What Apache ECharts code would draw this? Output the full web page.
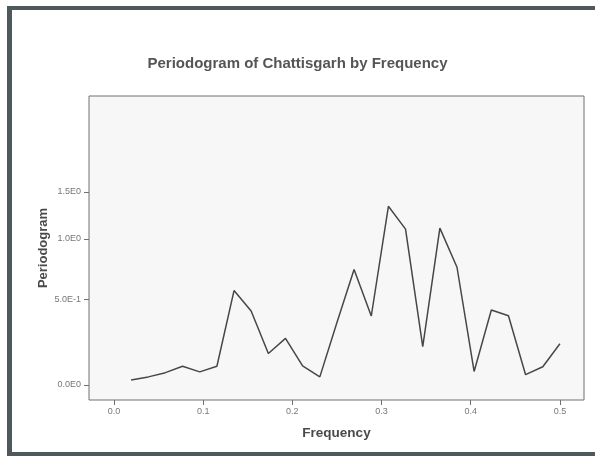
<!DOCTYPE html>
<html>
<head>
<meta charset="utf-8">
<script src="https://cdn.jsdelivr.net/npm/echarts@6/dist/echarts.min.js"></script>
<style>
html,body{margin:0;padding:0;background:#ffffff;}
#chart{width:595px;height:456px;}
</style>
</head>
<body>
<div id="chart"></div>
<script>
// Data
var frequencies = [0.0192,0.0385,0.0577,0.0769,0.0962,0.1154,0.1346,0.1538,0.1731,0.1923,0.2115,0.2308,0.2500,
                   0.2692,0.2885,0.3077,0.3269,0.3462,0.3654,0.3846,0.4038,0.4231,0.4423,0.4615,0.4808,0.5000];
var periodogram = [0.024,0.039,0.060,0.093,0.064,0.093,0.565,0.420,0.161,0.247,0.095,0.039,0.345,
                   0.730,0.387,1.334,1.095,0.200,1.105,0.748,0.066,0.427,0.389,0.050,0.090,0.216];
var xTicks = [0.0,0.1,0.2,0.3,0.4,0.5];
var xTickLabels = ['0.0','0.1','0.2','0.3','0.4','0.5'];
var yTicks = [0.0,0.5,1.0,1.5];
var yTickLabels = ['0.0E0','5.0E-1','1.0E0','1.5E0'];

// The reference's vertical scale is compressed like ln(1 + value)
function tf(v){ return Math.log(1 + v); }
var yTickPos = yTicks.map(tf);
var seriesData = frequencies.map(function(f,i){ return [f, tf(periodogram[i])]; });

var font = 'Liberation Sans, Arial, sans-serif';
var chart = echarts.init(document.getElementById('chart'), null, {renderer:'canvas'});
chart.setOption({
  animation:false,
  backgroundColor:'#ffffff',
  title:{
    text:'Periodogram of Chattisgarh by Frequency',
    left:'center', top:51,
    textStyle:{fontFamily:font, fontSize:15, fontWeight:'bold', color:'#555555'}
  },
  grid:{left:89, top:96, right:11, bottom:56, show:true, backgroundColor:'#f7f7f7', borderColor:'#707070', borderWidth:1},
  xAxis:{
    type:'value', min:-0.028, max:0.527,
    name:'Frequency', nameLocation:'middle', nameGap:26,
    nameTextStyle:{fontFamily:font, fontSize:13.5, fontWeight:'bold', color:'#4a4a4a'},
    axisLine:{show:false, onZero:false},
    axisTick:{show:true, length:5, inside:false, lineStyle:{color:'#707070'}, customValues:xTicks},
    axisLabel:{fontFamily:font, fontSize:9, color:'#777', margin:7, customValues:xTicks,
      formatter:function(v){ var i = xTicks.findIndex(function(t){return Math.abs(t-v)<1e-6;}); return i>=0?xTickLabels[i]:''; }},
    splitLine:{show:false}
  },
  yAxis:{
    type:'value', min:-0.0714, max:1.371,
    name:'Periodogram', nameLocation:'middle', nameGap:39, nameRotate:90, nameMoveOverlap:false,
    nameTextStyle:{fontFamily:font, fontSize:13, fontWeight:'bold', color:'#4a4a4a'},
    axisLine:{show:false, onZero:false},
    axisTick:{show:true, length:5, lineStyle:{color:'#707070'}, customValues:yTickPos},
    axisLabel:{fontFamily:font, fontSize:9, color:'#777', margin:8, customValues:yTickPos,
      formatter:function(v){ var i = yTickPos.findIndex(function(t){return Math.abs(t-v)<1e-6;}); return i>=0?yTickLabels[i]:''; }},
    splitLine:{show:false}
  },
  series:[{
    type:'line', data:seriesData, showSymbol:false, symbol:'none',
    lineStyle:{color:'#474747', width:1.5}
  }],
  graphic:[
    {type:'rect', shape:{x:7, y:6, width:588, height:4}, style:{fill:'#4e585d'}},
    {type:'rect', shape:{x:7, y:6, width:5, height:450}, style:{fill:'#4e585d'}},
    {type:'rect', shape:{x:7, y:452, width:588, height:4}, style:{fill:'#4e585d'}}
  ]
});
</script>
</body>
</html>
